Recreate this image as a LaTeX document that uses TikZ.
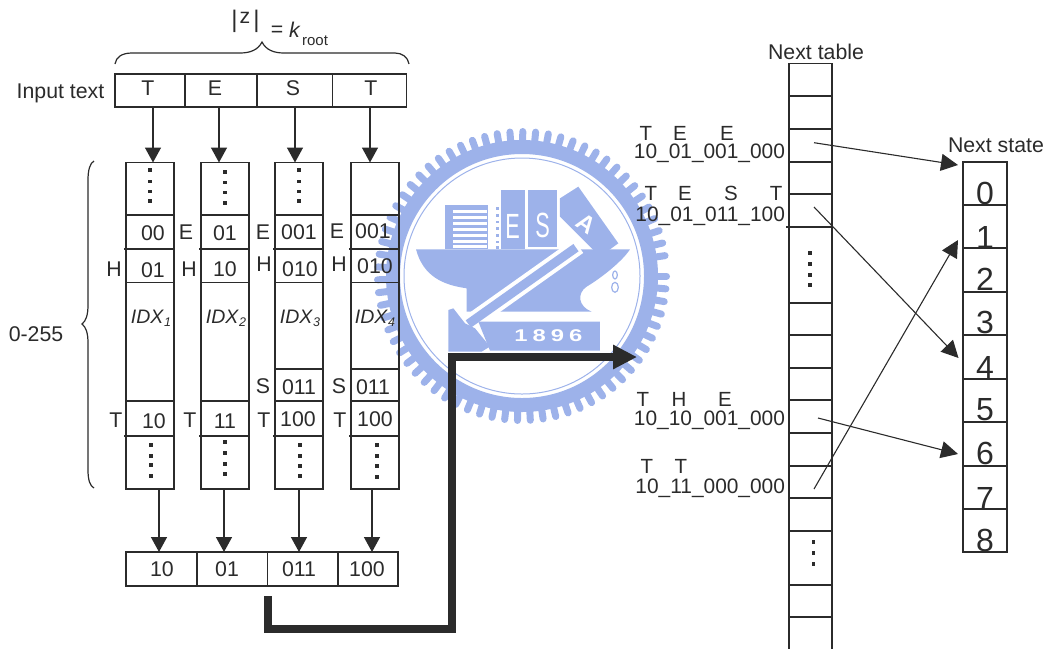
\documentclass[tikz,border=0pt]{standalone}
\usepackage{fontspec}
\setmainfont{Liberation Sans}
\usetikzlibrary{arrows.meta}
\definecolor{ink}{HTML}{2B2B2B}
\definecolor{logoblue}{HTML}{9DB2EA}
\newcommand{\cellbox}[5]{%
  \pgfmathsetmacro\cellw{#4-#2}\pgfmathsetmacro\cellh{#5-#3}%
  \node[cell,minimum width=\cellw pt,minimum height=\cellh pt] (#1) at ({(#2+#4)/2},{(#3+#5)/2}) {};}
\newcommand{\idx}[1]{\textit{IDX}\raisebox{-3pt}{\fontsize{12.5}{13}\selectfont\textit{#1}}}
\tikzset{
  cell/.style={draw=ink,line width=1.5pt,inner sep=0pt,outer sep=0pt,rectangle},
  txt/.style={inner sep=0pt,outer sep=0pt,text=ink,font=\fontsize{21.3}{24}\selectfont},
  idxtxt/.style={txt,font=\fontsize{19.5}{22}\selectfont},
  bignum/.style={txt,font=\fontsize{32}{34}\selectfont},
  code/.style={txt,anchor=base east,font=\fontsize{20.9}{24}\selectfont},
  keytxt/.style={txt,font=\fontsize{20.5}{24}\selectfont},
  logotxt/.style={inner sep=0pt,text=white,font=\bfseries\fontsize{17}{20}\selectfont},
  arr/.style={draw=ink,line width=1.5pt,-{Triangle[length=15pt,width=16pt]}},
  thinarr/.style={draw=ink,line width=1.1pt,-{Triangle[length=17pt,width=17pt]}},
  bigarr/.style={draw=ink,line width=8pt,-{Triangle[length=24pt,width=23pt]}},
  bracep/.style={draw=ink,line width=1.2pt},
  dot/.style={fill=ink}
}
\begin{document}
\begin{tikzpicture}[x=1pt,y=-1pt]
\useasboundingbox (0,0) rectangle (1046,649);
% ---------- watermark logo ----------
\begin{scope}[shift={(522,276)}]
  \foreach \a in {0,5.1,...,355}
    \draw[logoblue,line width=7pt,line cap=round] (\a:132) -- (\a:144.5);
  \draw[logoblue,line width=14pt] (0,0) circle (129);
  \draw[logoblue,line width=1pt] (0,0) circle (118);
\end{scope}
\begin{scope}[shift={(400,90)},x=0.3333pt,y=-0.3333pt]
  % books
  \fill[logoblue] (135,345) rectangle (265,478);
  \foreach \y in {360,378,396,414,432,450,466} \fill[white] (160,\y) rectangle (262,\y+9);
  \foreach \y in {352,372,392,412,432,452,468} \fill[logoblue] (287,\y) rectangle (297,\y+8);
  \fill[logoblue] (302,300) rectangle (375,478);
  \fill[logoblue] (385,300) rectangle (472,470);
  \fill[logoblue] (480,325) -- (535,290) -- (655,460) -- (600,500) -- (480,380) -- cycle;
  \node[logotxt,font=\fontsize{35}{36}\selectfont] (logoE) at (338,408) {\scalebox{.62}[1]{E}};
  \node[logotxt,font=\fontsize{35}{36}\selectfont] (logoS) at (428,405) {\scalebox{.62}[1]{S}};
  \node[logotxt,font=\bfseries\fontsize{24}{26}\selectfont,rotate=-35] (logoA) at (560,400) {A};
  % anvil
  \fill[logoblue] (48,478) -- (690,478) .. controls (670,510) and (610,560) .. (560,590)
     .. controls (530,610) and (535,650) .. (575,665) -- (200,665) -- (200,595)
     .. controls (130,585) and (70,560) .. (48,478) -- cycle;
  % hammer handle
  \draw[white,line width=17pt] (205,702) -- (535,468);
  \draw[logoblue,line width=9pt] (205,702) -- (528,473);
  \fill[logoblue] (145,660) -- (160,655) -- (195,700) -- (225,715) -- (270,770) -- (245,785) -- (145,785) -- cycle;
  % chain
  \draw[logoblue,line width=1.2pt] (645,555) ellipse (7 and 12);
  \draw[logoblue,line width=1.2pt] (645,592) ellipse (10 and 15);
  % plate
  \fill[logoblue] (235,695) -- (600,695) -- (600,782) -- (270,782) -- cycle;
  \node[logotxt] (logoyear) at (445,738) {\scalebox{1.4}[1]{1}\hspace{5pt}\scalebox{1.4}[1]{8}\hspace{5pt}\scalebox{1.4}[1]{9}\hspace{5pt}\scalebox{1.4}[1]{6}};
\end{scope}
% ---------- top brace and title ----------
\draw[bracep] (115,64) .. controls (116,57) and (122,53) .. (132,53) -- (240,53)
  .. controls (250,53) and (258,50) .. (262,42) .. controls (266,50) and (274,53) .. (284,53)
  -- (395,53) .. controls (402,53) and (408,57) .. (409,64);
\node[txt,font=\fontsize{24}{26}\selectfont] (bar1) at (234.5,21) {|};
\node[txt] (zed) at (245,18) {z};
\node[txt,font=\fontsize{24}{26}\selectfont] (bar2) at (256.5,21) {|};
\node[txt] (eq) at (277,31) {=};
\node[txt] (kay) at (295,30) {\textit{k}};
\node[txt,font=\fontsize{15}{16}\selectfont] (root) at (315,41) {root};
% ---------- left brace ----------
\draw[bracep] (94,161) .. controls (90,163) and (88,170) .. (88,180) -- (88,305)
  .. controls (88,315) and (86,321) .. (82,324) .. controls (86,327) and (88,333) .. (88,343)
  -- (88,470) .. controls (88,480) and (90,486) .. (94,488);
\node[txt] (range) at (36,334) {0-255};
\node[txt] (inputlabel) at (60.5,93) {Input text};
% ---------- input row ----------
\cellbox{in1}{115}{74}{185}{107}
\cellbox{in2}{185}{74}{257}{107}
\cellbox{in3}{257}{74}{332.5}{107}
\cellbox{in4}{332.5}{74}{406.5}{107}
\foreach \i/\x/\t in {1/148/T,2/215/E,3/293/S,4/371/T}
  \node[txt] (inl\i) at (\x,88) {\t};
% ---------- index columns ----------
\foreach \c/\l/\r in {1/126/174,2/201/249}{
  \cellbox{c\c a}{\l}{162.5}{\r}{215}
  \cellbox{c\c b}{\l}{215}{\r}{249}
  \cellbox{c\c c}{\l}{249}{\r}{282.5}
  \cellbox{c\c d}{\l}{282.5}{\r}{401}
  \cellbox{c\c e}{\l}{401}{\r}{436}
  \cellbox{c\c f}{\l}{436}{\r}{489}
}
\foreach \c/\l/\r in {3/275/323,4/351/399}{
  \cellbox{c\c a}{\l}{162.5}{\r}{215}
  \cellbox{c\c b}{\l}{215}{\r}{249}
  \cellbox{c\c c}{\l}{249}{\r}{282.5}
  \cellbox{c\c d}{\l}{282.5}{\r}{369}
  \cellbox{c\c g}{\l}{369}{\r}{401}
  \cellbox{c\c e}{\l}{401}{\r}{436}
  \cellbox{c\c f}{\l}{436}{\r}{489}
}
% small overhangs of the ruled lines
\foreach \l in {126,201,275,351}{
  \draw[ink,line width=1.5pt] (\l-2,249) -- (\l,249);
  \draw[ink,line width=1.5pt] (\l-2,436) -- (\l,436);
}
% cell values and row letters
\foreach \i/\x/\y/\t in {
  a/153/233/00, b/153/270/01, c/225/233/01, d/225/269/10,
  e/299/232/001, f/300/269/010, g/373/231/001, h/375/266/010,
  i/299/387/011, j/373/387/011,
  k/154/421/10, l/225/421/11, m/298/419/100, n/375/419/100,
  o/186/232/E, p/263/232/E, q/337/231/E,
  r/114/269/H, s/189/269/H, t/264/264/H, u/339/264/H,
  v/263/386/S, w/339/386/S,
  x/116/420/T, y/190/420/T, z/264/420/T, A/340/420/T}
  \node[txt] (val\i) at (\x,\y) {\t};
\node[idxtxt] (idx1) at (151,318) {\idx{1}};
\node[idxtxt] (idx2) at (226,318) {\idx{2}};
\node[idxtxt] (idx3) at (300,318) {\idx{3}};
\node[idxtxt] (idx4) at (375,318) {\idx{4}};
% vertical ellipses
\foreach \x/\y in {150/170,150/181.7,150/191.7,150/201,225/172,225/182.5,225/192.5,225/203,
  299/170,299/181.7,299/191.7,299/201,
  151/445,151/456,151/465,151/476,225/442,225/453,225/464,225/474,
  300/445,300/456,300/466,300/476,377/445,377/456,377/466,377/477,
  810/253,810/264,810/275,810/285,813.5/542,813.5/553,813.5/564}
  \fill[dot] (\x-1.7,\y-1.7) rectangle (\x+1.7,\y+1.7);
% ---------- output row ----------
\cellbox{out1}{126}{552}{197}{586}
\cellbox{out2}{197}{552}{267.5}{586}
\cellbox{out3}{267.5}{552}{338}{586}
\cellbox{out4}{338}{552}{398}{586}
\foreach \i/\x/\t in {1/162/10,2/227/01,3/299/011,4/367/100}
  \node[txt] (outl\i) at (\x,569) {\t};
% ---------- arrows input -> columns -> output ----------
\foreach \i/\x in {1/153,2/219,3/295,4/370}{
  \coordinate (topx\i) at (\x,130);
  \draw[arr] (in\i.south -| topx\i) -- (c\i a.north -| topx\i);
}
\foreach \i/\x in {1/159,2/224,3/299,4/372}{
  \coordinate (botx\i) at (\x,520);
  \draw[arr] (c\i f.south -| botx\i) -- (out\i.north -| botx\i);
}
% ---------- thick connector ----------
\coordinate (bigstart) at (267.5,596);
\coordinate (bigend) at (637,357);
\draw[bigarr] (bigstart) -- (267.5,628.5) -- (452,628.5) -- (452,357) -- (bigend);
% ---------- next table ----------
\node[txt] (nexttable) at (816,52) {Next table};
\foreach \n/\a/\b in {1/63.5/96,2/96/129,3/129/162,4/162/194,5/194/227,6/227/303,7/303/335,
  8/335/368,9/368/400,10/400/433,11/433/466,12/466/498,13/498/531,14/531/585,15/585/617}
  {\cellbox{nt\n}{789}{\a}{832}{\b}}
\coordinate (ntbl) at (789,649);
\coordinate (ntbr) at (832,649);
\draw[ink,line width=1.5pt] (nt15.south west) -- (ntbl);
\draw[ink,line width=1.5pt] (nt15.south east) -- (ntbr);
\draw[ink,line width=1.5pt] (786,227) -- (nt5.south west);
% code labels
\node[code] (code1) at (785,158) {10\_01\_001\_000};
\node[code] (code2) at (785,221) {10\_01\_011\_100};
\node[code] (code3) at (785,425.7) {10\_10\_001\_000};
\node[code] (code4) at (785,493) {10\_11\_000\_000};
\foreach \i/\x/\y/\t in {a/646/133/T,b/680/133/E,c/727/133/E,
  d/651/193.5/T,e/685/193.5/E,f/731/193.5/S,g/776/193.5/T,
  h/643/399.5/T,i/679/399.5/H,j/725/399.5/E,
  k/647/466/T,l/681/466/T}
  \node[keytxt] (key\i) at (\x,\y) {\t};
% ---------- next state ----------
\node[txt,anchor=west] (nextstate) at (948,145) {Next state};
\foreach \n/\a/\b/\yy in {0/162/205/193,1/205/248/237,2/248/292/279,3/292/335/322,4/335/379/367,
  5/379/422/410,6/422/466/453,7/466/509/498,8/509/552/540}{
  \cellbox{ns\n}{963}{\a}{1007}{\b}
  \node[bignum] (nsl\n) at (985,\yy) {\n};
}
% ---------- table -> state arrows ----------
\coordinate (fa) at (814,142.7);
\coordinate (fb) at (814,207);
\coordinate (fc) at (818,418);
\coordinate (fd) at (814,489);
\coordinate (ta) at (958,165);
\coordinate (tb) at (958.5,358);
\coordinate (tc) at (958,454);
\coordinate (td) at (958,240);
\draw[thinarr] (fa) -- (ta);
\draw[thinarr] (fb) -- (tb);
\draw[thinarr] (fc) -- (tc);
\draw[thinarr] (fd) -- (td);
\end{tikzpicture}
\end{document}
